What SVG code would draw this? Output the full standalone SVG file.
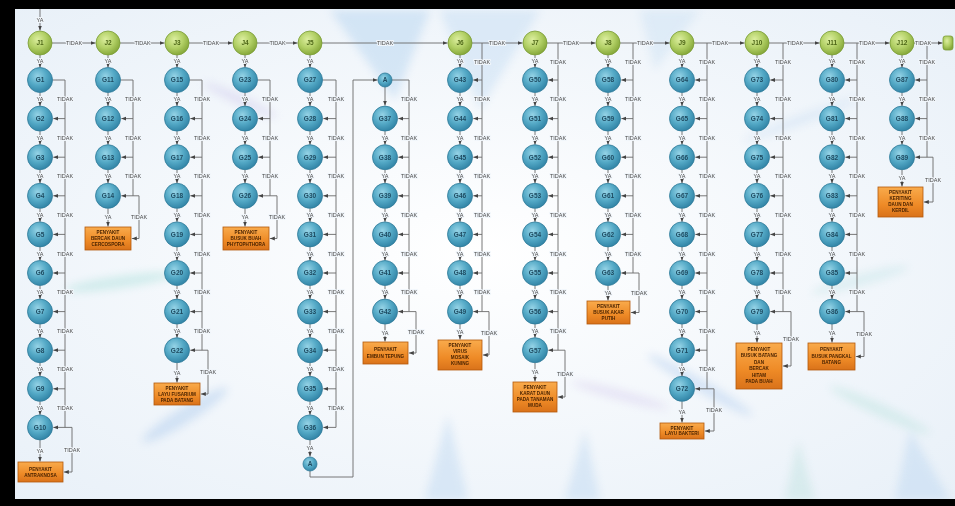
<svg xmlns="http://www.w3.org/2000/svg" width="955" height="506" viewBox="0 0 955 506">
<defs>
<radialGradient id="bgg" cx="50%" cy="50%" r="70%"><stop offset="0" stop-color="#ffffff"/><stop offset="1" stop-color="#e8f0f8"/></radialGradient>
<radialGradient id="bgr" cx="40%" cy="35%" r="65%"><stop offset="0" stop-color="#95d3e6"/><stop offset="0.55" stop-color="#54a9c6"/><stop offset="1" stop-color="#3386a8"/></radialGradient>
<radialGradient id="ggr" cx="40%" cy="35%" r="65%"><stop offset="0" stop-color="#dcee9f"/><stop offset="0.55" stop-color="#b2d066"/><stop offset="1" stop-color="#87a93b"/></radialGradient>
<linearGradient id="ogr" x1="0" y1="0" x2="0" y2="1"><stop offset="0" stop-color="#f9ab4c"/><stop offset="0.6" stop-color="#ee8a26"/><stop offset="1" stop-color="#d9721a"/></linearGradient>
<filter id="blur" x="-50%" y="-50%" width="200%" height="200%"><feGaussianBlur stdDeviation="4"/></filter>
<marker id="ah" viewBox="0 0 10 10" refX="10" refY="5" markerWidth="5" markerHeight="5" markerUnits="userSpaceOnUse" orient="auto"><path d="M0,1 L10,5 L0,9 z" fill="#444"/></marker>
<style>
.c line,.c path{stroke:#6a6a6a;stroke-width:.9;fill:none}
.a line,.a path{marker-end:url(#ah)}
.l{font-family:"Liberation Sans",Arial,sans-serif;font-size:5.5px;fill:#4a4a4a;text-anchor:middle;stroke:#f1f6fb;stroke-width:2.2px;paint-order:stroke;stroke-linejoin:round}
.b{fill:url(#bgr);stroke:#2f7a98;stroke-width:.8}
.g{fill:url(#ggr);stroke:#7a9c35;stroke-width:.8}
.o{fill:url(#ogr);stroke:#b3590b;stroke-width:.8}
.nt{font-family:"Liberation Sans",Arial,sans-serif;font-size:6.5px;font-weight:bold;fill:#1d4a60;text-anchor:middle}
.gt{font-family:"Liberation Sans",Arial,sans-serif;font-size:6.5px;font-weight:bold;fill:#4d6617;text-anchor:middle}
.bt{font-family:"Liberation Sans",Arial,sans-serif;font-size:4.6px;font-weight:bold;fill:#4a2300;text-anchor:middle}
</style>
</defs>
<rect x="0" y="0" width="955" height="506" fill="url(#bgg)"/>
<g id="background-streaks" filter="url(#blur)" opacity="0.4">
<polygon points="330,10 430,10 395,100" fill="#a9cdee"/>
<polygon points="440,10 540,10 480,110" fill="#bcd8f2"/>
<polygon points="640,10 700,10 655,70" fill="#c6def3"/>
<ellipse cx="120" cy="282" rx="55" ry="6" transform="rotate(-8 120 282)" fill="#9fdcd6"/>
<ellipse cx="185" cy="415" rx="50" ry="8" transform="rotate(-32 185 415)" fill="#a5c6ec"/>
<ellipse cx="240" cy="100" rx="40" ry="5" transform="rotate(25 240 100)" fill="#c9c2ea"/>
<polygon points="425,500 448,415 468,500" fill="#b5d3f0"/>
<polygon points="565,500 585,430 600,500" fill="#b5d3f0"/>
<polygon points="785,500 798,440 815,500" fill="#b9e0dc"/>
<polygon points="895,500 910,430 950,500" fill="#b5d3f0"/>
<ellipse cx="700" cy="385" rx="60" ry="6" transform="rotate(30 700 385)" fill="#a9c8ee"/>
<ellipse cx="880" cy="410" rx="55" ry="6" transform="rotate(25 880 410)" fill="#b5e1dc"/>
<ellipse cx="860" cy="280" rx="50" ry="6" transform="rotate(-15 860 280)" fill="#bfe3e6"/>
<ellipse cx="800" cy="120" rx="60" ry="5" transform="rotate(-20 800 120)" fill="#c6dcf2"/>
<ellipse cx="620" cy="395" rx="50" ry="5" transform="rotate(15 620 395)" fill="#d2c8ec"/>
</g>
<g id="frame" fill="#000">
<rect x="0" y="0" width="955" height="9"/>
<rect x="0" y="0" width="15" height="506"/>
<rect x="0" y="499" width="955" height="7"/>
</g>
<g id="connectors" class="c">
<g class="a">
<line x1="40" y1="9" x2="40" y2="30.5"/>
<line x1="52" y1="43" x2="95.5" y2="43"/>
<line x1="120" y1="43" x2="164.5" y2="43"/>
<line x1="189" y1="43" x2="232.5" y2="43"/>
<line x1="257" y1="43" x2="297.5" y2="43"/>
<line x1="322" y1="43" x2="447.5" y2="43"/>
<line x1="472" y1="43" x2="522.5" y2="43"/>
<line x1="547" y1="43" x2="595.5" y2="43"/>
<line x1="620" y1="43" x2="669.5" y2="43"/>
<line x1="694" y1="43" x2="744.5" y2="43"/>
<line x1="769" y1="43" x2="819.5" y2="43"/>
<line x1="844" y1="43" x2="889.5" y2="43"/>
<line x1="914" y1="43" x2="942.5" y2="43"/>
<line x1="40" y1="55" x2="40" y2="67.5"/><line x1="40" y1="92.5" x2="40" y2="106.1"/><line x1="40" y1="131.1" x2="40" y2="144.7"/><line x1="40" y1="169.7" x2="40" y2="183.3"/><line x1="40" y1="208.3" x2="40" y2="221.9"/><line x1="40" y1="246.9" x2="40" y2="260.5"/><line x1="40" y1="285.5" x2="40" y2="299.1"/><line x1="40" y1="324.1" x2="40" y2="337.7"/><line x1="40" y1="362.7" x2="40" y2="376.3"/><line x1="40" y1="401.3" x2="40" y2="414.9"/><line x1="40" y1="439.9" x2="40" y2="461.5"/>
<line x1="65" y1="118.6" x2="53.3" y2="118.6"/><line x1="65" y1="157.2" x2="53.3" y2="157.2"/><line x1="65" y1="195.8" x2="53.3" y2="195.8"/><line x1="65" y1="234.4" x2="53.3" y2="234.4"/><line x1="65" y1="273" x2="53.3" y2="273"/><line x1="65" y1="311.6" x2="53.3" y2="311.6"/><line x1="65" y1="350.2" x2="53.3" y2="350.2"/><line x1="65" y1="388.8" x2="53.3" y2="388.8"/><line x1="65" y1="427.4" x2="53.3" y2="427.4"/>
<path d="M65,427.4 H72 V472 H63.8"/>
<line x1="108" y1="55" x2="108" y2="67.5"/><line x1="108" y1="92.5" x2="108" y2="106.1"/><line x1="108" y1="131.1" x2="108" y2="144.7"/><line x1="108" y1="169.7" x2="108" y2="183.3"/><line x1="108" y1="208.3" x2="108" y2="226.5"/>
<line x1="133" y1="118.6" x2="121.3" y2="118.6"/><line x1="133" y1="157.2" x2="121.3" y2="157.2"/><line x1="133" y1="195.8" x2="121.3" y2="195.8"/>
<path d="M133,195.8 H139 V238.5 H131.8"/>
<line x1="177" y1="55" x2="177" y2="67.5"/><line x1="177" y1="92.5" x2="177" y2="106.1"/><line x1="177" y1="131.1" x2="177" y2="144.7"/><line x1="177" y1="169.7" x2="177" y2="183.3"/><line x1="177" y1="208.3" x2="177" y2="221.9"/><line x1="177" y1="246.9" x2="177" y2="260.5"/><line x1="177" y1="285.5" x2="177" y2="299.1"/><line x1="177" y1="324.1" x2="177" y2="337.7"/><line x1="177" y1="362.7" x2="177" y2="382.5"/>
<line x1="202" y1="118.6" x2="190.3" y2="118.6"/><line x1="202" y1="157.2" x2="190.3" y2="157.2"/><line x1="202" y1="195.8" x2="190.3" y2="195.8"/><line x1="202" y1="234.4" x2="190.3" y2="234.4"/><line x1="202" y1="273" x2="190.3" y2="273"/><line x1="202" y1="311.6" x2="190.3" y2="311.6"/><line x1="202" y1="350.2" x2="190.3" y2="350.2"/>
<path d="M202,350.2 H208 V394 H200.8"/>
<line x1="245" y1="55" x2="245" y2="67.5"/><line x1="245" y1="92.5" x2="245" y2="106.1"/><line x1="245" y1="131.1" x2="245" y2="144.7"/><line x1="245" y1="169.7" x2="245" y2="183.3"/><line x1="245" y1="208.3" x2="245" y2="226.5"/>
<line x1="270" y1="118.6" x2="258.3" y2="118.6"/><line x1="270" y1="157.2" x2="258.3" y2="157.2"/><line x1="270" y1="195.8" x2="258.3" y2="195.8"/>
<path d="M270,195.8 H277 V238.5 H269.8"/>
<line x1="310" y1="55" x2="310" y2="67.5"/><line x1="310" y1="92.5" x2="310" y2="106.1"/><line x1="310" y1="131.1" x2="310" y2="144.7"/><line x1="310" y1="169.7" x2="310" y2="183.3"/><line x1="310" y1="208.3" x2="310" y2="221.9"/><line x1="310" y1="246.9" x2="310" y2="260.5"/><line x1="310" y1="285.5" x2="310" y2="299.1"/><line x1="310" y1="324.1" x2="310" y2="337.7"/><line x1="310" y1="362.7" x2="310" y2="376.3"/><line x1="310" y1="401.3" x2="310" y2="414.9"/><line x1="310" y1="439.9" x2="310" y2="456.5"/>
<line x1="336" y1="118.6" x2="323.3" y2="118.6"/><line x1="336" y1="157.2" x2="323.3" y2="157.2"/><line x1="336" y1="195.8" x2="323.3" y2="195.8"/><line x1="336" y1="234.4" x2="323.3" y2="234.4"/><line x1="336" y1="273" x2="323.3" y2="273"/><line x1="336" y1="311.6" x2="323.3" y2="311.6"/><line x1="336" y1="350.2" x2="323.3" y2="350.2"/><line x1="336" y1="388.8" x2="323.3" y2="388.8"/><line x1="336" y1="427.4" x2="323.3" y2="427.4"/>
<path d="M310,471 V477 H353 V80 H377.5"/>
<line x1="385" y1="87" x2="385" y2="105.6"/><line x1="385" y1="131.1" x2="385" y2="144.7"/><line x1="385" y1="169.7" x2="385" y2="183.3"/><line x1="385" y1="208.3" x2="385" y2="221.9"/><line x1="385" y1="246.9" x2="385" y2="260.5"/><line x1="385" y1="285.5" x2="385" y2="299.1"/><line x1="385" y1="324.1" x2="385" y2="341.5"/>
<line x1="409" y1="118.6" x2="398.3" y2="118.6"/><line x1="409" y1="157.2" x2="398.3" y2="157.2"/><line x1="409" y1="195.8" x2="398.3" y2="195.8"/><line x1="409" y1="234.4" x2="398.3" y2="234.4"/><line x1="409" y1="273" x2="398.3" y2="273"/><line x1="409" y1="311.6" x2="398.3" y2="311.6"/>
<path d="M409,311.6 H416 V353 H408.8"/>
<line x1="460" y1="55" x2="460" y2="67.5"/><line x1="460" y1="92.5" x2="460" y2="106.1"/><line x1="460" y1="131.1" x2="460" y2="144.7"/><line x1="460" y1="169.7" x2="460" y2="183.3"/><line x1="460" y1="208.3" x2="460" y2="221.9"/><line x1="460" y1="246.9" x2="460" y2="260.5"/><line x1="460" y1="285.5" x2="460" y2="299.1"/><line x1="460" y1="324.1" x2="460" y2="339.5"/>
<line x1="482" y1="80" x2="473.3" y2="80"/><line x1="482" y1="118.6" x2="473.3" y2="118.6"/><line x1="482" y1="157.2" x2="473.3" y2="157.2"/><line x1="482" y1="195.8" x2="473.3" y2="195.8"/><line x1="482" y1="234.4" x2="473.3" y2="234.4"/><line x1="482" y1="273" x2="473.3" y2="273"/><line x1="482" y1="311.6" x2="473.3" y2="311.6"/>
<path d="M482,311.6 H489 V355 H482.8"/>
<line x1="535" y1="55" x2="535" y2="67.5"/><line x1="535" y1="92.5" x2="535" y2="106.1"/><line x1="535" y1="131.1" x2="535" y2="144.7"/><line x1="535" y1="169.7" x2="535" y2="183.3"/><line x1="535" y1="208.3" x2="535" y2="221.9"/><line x1="535" y1="246.9" x2="535" y2="260.5"/><line x1="535" y1="285.5" x2="535" y2="299.1"/><line x1="535" y1="324.1" x2="535" y2="337.7"/><line x1="535" y1="362.7" x2="535" y2="381.5"/>
<line x1="558" y1="80" x2="548.3" y2="80"/><line x1="558" y1="118.6" x2="548.3" y2="118.6"/><line x1="558" y1="157.2" x2="548.3" y2="157.2"/><line x1="558" y1="195.8" x2="548.3" y2="195.8"/><line x1="558" y1="234.4" x2="548.3" y2="234.4"/><line x1="558" y1="273" x2="548.3" y2="273"/><line x1="558" y1="311.6" x2="548.3" y2="311.6"/><line x1="558" y1="350.2" x2="548.3" y2="350.2"/>
<path d="M558,350.2 H565 V397 H557.8"/>
<line x1="608" y1="55" x2="608" y2="67.5"/><line x1="608" y1="92.5" x2="608" y2="106.1"/><line x1="608" y1="131.1" x2="608" y2="144.7"/><line x1="608" y1="169.7" x2="608" y2="183.3"/><line x1="608" y1="208.3" x2="608" y2="221.9"/><line x1="608" y1="246.9" x2="608" y2="260.5"/><line x1="608" y1="285.5" x2="608" y2="300.5"/>
<line x1="633" y1="80" x2="621.3" y2="80"/><line x1="633" y1="118.6" x2="621.3" y2="118.6"/><line x1="633" y1="157.2" x2="621.3" y2="157.2"/><line x1="633" y1="195.8" x2="621.3" y2="195.8"/><line x1="633" y1="234.4" x2="621.3" y2="234.4"/><line x1="633" y1="273" x2="621.3" y2="273"/>
<path d="M633,273 H639 V312.5 H630.8"/>
<line x1="682" y1="55" x2="682" y2="67.5"/><line x1="682" y1="92.5" x2="682" y2="106.1"/><line x1="682" y1="131.1" x2="682" y2="144.7"/><line x1="682" y1="169.7" x2="682" y2="183.3"/><line x1="682" y1="208.3" x2="682" y2="221.9"/><line x1="682" y1="246.9" x2="682" y2="260.5"/><line x1="682" y1="285.5" x2="682" y2="299.1"/><line x1="682" y1="324.1" x2="682" y2="337.7"/><line x1="682" y1="362.7" x2="682" y2="376.3"/><line x1="682" y1="401.3" x2="682" y2="422.5"/>
<line x1="707" y1="80" x2="695.3" y2="80"/><line x1="707" y1="118.6" x2="695.3" y2="118.6"/><line x1="707" y1="157.2" x2="695.3" y2="157.2"/><line x1="707" y1="195.8" x2="695.3" y2="195.8"/><line x1="707" y1="234.4" x2="695.3" y2="234.4"/><line x1="707" y1="273" x2="695.3" y2="273"/><line x1="707" y1="311.6" x2="695.3" y2="311.6"/><line x1="707" y1="350.2" x2="695.3" y2="350.2"/><line x1="707" y1="388.8" x2="695.3" y2="388.8"/>
<path d="M707,388.8 H714 V431 H704.8"/>
<line x1="757" y1="55" x2="757" y2="67.5"/><line x1="757" y1="92.5" x2="757" y2="106.1"/><line x1="757" y1="131.1" x2="757" y2="144.7"/><line x1="757" y1="169.7" x2="757" y2="183.3"/><line x1="757" y1="208.3" x2="757" y2="221.9"/><line x1="757" y1="246.9" x2="757" y2="260.5"/><line x1="757" y1="285.5" x2="757" y2="299.1"/><line x1="757" y1="324.1" x2="757" y2="342.5"/>
<line x1="783" y1="80" x2="770.3" y2="80"/><line x1="783" y1="118.6" x2="770.3" y2="118.6"/><line x1="783" y1="157.2" x2="770.3" y2="157.2"/><line x1="783" y1="195.8" x2="770.3" y2="195.8"/><line x1="783" y1="234.4" x2="770.3" y2="234.4"/><line x1="783" y1="273" x2="770.3" y2="273"/><line x1="783" y1="311.6" x2="770.3" y2="311.6"/>
<path d="M783,311.6 H791 V366 H782.8"/>
<line x1="832" y1="55" x2="832" y2="67.5"/><line x1="832" y1="92.5" x2="832" y2="106.1"/><line x1="832" y1="131.1" x2="832" y2="144.7"/><line x1="832" y1="169.7" x2="832" y2="183.3"/><line x1="832" y1="208.3" x2="832" y2="221.9"/><line x1="832" y1="246.9" x2="832" y2="260.5"/><line x1="832" y1="285.5" x2="832" y2="299.1"/><line x1="832" y1="324.1" x2="832" y2="342.5"/>
<line x1="857" y1="80" x2="845.3" y2="80"/><line x1="857" y1="118.6" x2="845.3" y2="118.6"/><line x1="857" y1="157.2" x2="845.3" y2="157.2"/><line x1="857" y1="195.8" x2="845.3" y2="195.8"/><line x1="857" y1="234.4" x2="845.3" y2="234.4"/><line x1="857" y1="273" x2="845.3" y2="273"/><line x1="857" y1="311.6" x2="845.3" y2="311.6"/>
<path d="M857,311.6 H864 V356.5 H855.8"/>
<line x1="902" y1="55" x2="902" y2="67.5"/><line x1="902" y1="92.5" x2="902" y2="106.1"/><line x1="902" y1="131.1" x2="902" y2="144.7"/><line x1="902" y1="169.7" x2="902" y2="186.5"/>
<line x1="927" y1="80" x2="915.3" y2="80"/><line x1="927" y1="118.6" x2="915.3" y2="118.6"/><line x1="927" y1="157.2" x2="915.3" y2="157.2"/>
<path d="M927,157.2 H933 V202 H923.8"/>
</g>
<g>
<path d="M52.5,80 H65 V427.4"/>
<path d="M120.5,80 H133 V195.8"/>
<path d="M189.5,80 H202 V350.2"/>
<path d="M257.5,80 H270 V195.8"/>
<path d="M322.5,80 H336 V427.4"/>
<path d="M392,80 H409 V311.6"/>
<path d="M482,43 V311.6"/>
<path d="M558,43 V350.2"/>
<path d="M633,43 V273"/>
<path d="M707,43 V388.8"/>
<path d="M783,43 V311.6"/>
<path d="M857,43 V311.6"/>
<path d="M927,43 V157.2"/>
</g>
<g id="edge-labels">
<text class="l" x="40" y="22">YA</text>
<text class="l" x="74" y="44.9">TIDAK</text><text class="l" x="142.5" y="44.9">TIDAK</text><text class="l" x="211" y="44.9">TIDAK</text><text class="l" x="277.5" y="44.9">TIDAK</text><text class="l" x="385" y="44.9">TIDAK</text><text class="l" x="497" y="44.9">TIDAK</text><text class="l" x="571" y="44.9">TIDAK</text><text class="l" x="645" y="44.9">TIDAK</text><text class="l" x="720" y="44.9">TIDAK</text><text class="l" x="795" y="44.9">TIDAK</text><text class="l" x="867" y="44.9">TIDAK</text><text class="l" x="923" y="44.9">TIDAK</text>
<text class="l" x="40" y="63.4">YA</text><text class="l" x="40" y="101.2">YA</text><text class="l" x="40" y="139.8">YA</text><text class="l" x="40" y="178.4">YA</text><text class="l" x="40" y="217">YA</text><text class="l" x="40" y="255.6">YA</text><text class="l" x="40" y="294.2">YA</text><text class="l" x="40" y="332.8">YA</text><text class="l" x="40" y="371.4">YA</text><text class="l" x="40" y="410">YA</text><text class="l" x="40" y="452.6">YA</text>
<text class="l" x="65" y="101.2">TIDAK</text><text class="l" x="65" y="139.8">TIDAK</text><text class="l" x="65" y="178.4">TIDAK</text><text class="l" x="65" y="217">TIDAK</text><text class="l" x="65" y="255.6">TIDAK</text><text class="l" x="65" y="294.2">TIDAK</text><text class="l" x="65" y="332.8">TIDAK</text><text class="l" x="65" y="371.4">TIDAK</text><text class="l" x="65" y="410">TIDAK</text><text class="l" x="72" y="451.6">TIDAK</text>
<text class="l" x="108" y="63.4">YA</text><text class="l" x="108" y="101.2">YA</text><text class="l" x="108" y="139.8">YA</text><text class="l" x="108" y="178.4">YA</text><text class="l" x="108" y="219.3">YA</text>
<text class="l" x="133" y="101.2">TIDAK</text><text class="l" x="133" y="139.8">TIDAK</text><text class="l" x="133" y="178.4">TIDAK</text><text class="l" x="139" y="219.1">TIDAK</text>
<text class="l" x="177" y="63.4">YA</text><text class="l" x="177" y="101.2">YA</text><text class="l" x="177" y="139.8">YA</text><text class="l" x="177" y="178.4">YA</text><text class="l" x="177" y="217">YA</text><text class="l" x="177" y="255.6">YA</text><text class="l" x="177" y="294.2">YA</text><text class="l" x="177" y="332.8">YA</text><text class="l" x="177" y="374.5">YA</text>
<text class="l" x="202" y="101.2">TIDAK</text><text class="l" x="202" y="139.8">TIDAK</text><text class="l" x="202" y="178.4">TIDAK</text><text class="l" x="202" y="217">TIDAK</text><text class="l" x="202" y="255.6">TIDAK</text><text class="l" x="202" y="294.2">TIDAK</text><text class="l" x="202" y="332.8">TIDAK</text><text class="l" x="208" y="374">TIDAK</text>
<text class="l" x="245" y="63.4">YA</text><text class="l" x="245" y="101.2">YA</text><text class="l" x="245" y="139.8">YA</text><text class="l" x="245" y="178.4">YA</text><text class="l" x="245" y="219.3">YA</text>
<text class="l" x="270" y="101.2">TIDAK</text><text class="l" x="270" y="139.8">TIDAK</text><text class="l" x="270" y="178.4">TIDAK</text><text class="l" x="277" y="219.1">TIDAK</text>
<text class="l" x="310" y="63.4">YA</text><text class="l" x="310" y="101.2">YA</text><text class="l" x="310" y="139.8">YA</text><text class="l" x="310" y="178.4">YA</text><text class="l" x="310" y="217">YA</text><text class="l" x="310" y="255.6">YA</text><text class="l" x="310" y="294.2">YA</text><text class="l" x="310" y="332.8">YA</text><text class="l" x="310" y="371.4">YA</text><text class="l" x="310" y="410">YA</text><text class="l" x="310" y="450.1">YA</text>
<text class="l" x="336" y="101.2">TIDAK</text><text class="l" x="336" y="139.8">TIDAK</text><text class="l" x="336" y="178.4">TIDAK</text><text class="l" x="336" y="217">TIDAK</text><text class="l" x="336" y="255.6">TIDAK</text><text class="l" x="336" y="294.2">TIDAK</text><text class="l" x="336" y="332.8">TIDAK</text><text class="l" x="336" y="371.4">TIDAK</text><text class="l" x="336" y="410">TIDAK</text>
<text class="l" x="385" y="139.8">YA</text><text class="l" x="385" y="178.4">YA</text><text class="l" x="385" y="217">YA</text><text class="l" x="385" y="255.6">YA</text><text class="l" x="385" y="294.2">YA</text><text class="l" x="385" y="334.7">YA</text>
<text class="l" x="409" y="101.2">TIDAK</text><text class="l" x="409" y="139.8">TIDAK</text><text class="l" x="409" y="178.4">TIDAK</text><text class="l" x="409" y="217">TIDAK</text><text class="l" x="409" y="255.6">TIDAK</text><text class="l" x="409" y="294.2">TIDAK</text><text class="l" x="416" y="334">TIDAK</text>
<text class="l" x="460" y="63.4">YA</text><text class="l" x="460" y="101.2">YA</text><text class="l" x="460" y="139.8">YA</text><text class="l" x="460" y="178.4">YA</text><text class="l" x="460" y="217">YA</text><text class="l" x="460" y="255.6">YA</text><text class="l" x="460" y="294.2">YA</text><text class="l" x="460" y="333.7">YA</text>
<text class="l" x="482" y="63.9">TIDAK</text><text class="l" x="482" y="101.2">TIDAK</text><text class="l" x="482" y="139.8">TIDAK</text><text class="l" x="482" y="178.4">TIDAK</text><text class="l" x="482" y="217">TIDAK</text><text class="l" x="482" y="255.6">TIDAK</text><text class="l" x="482" y="294.2">TIDAK</text><text class="l" x="489" y="335">TIDAK</text>
<text class="l" x="535" y="63.4">YA</text><text class="l" x="535" y="101.2">YA</text><text class="l" x="535" y="139.8">YA</text><text class="l" x="535" y="178.4">YA</text><text class="l" x="535" y="217">YA</text><text class="l" x="535" y="255.6">YA</text><text class="l" x="535" y="294.2">YA</text><text class="l" x="535" y="332.8">YA</text><text class="l" x="535" y="374">YA</text>
<text class="l" x="558" y="63.9">TIDAK</text><text class="l" x="558" y="101.2">TIDAK</text><text class="l" x="558" y="139.8">TIDAK</text><text class="l" x="558" y="178.4">TIDAK</text><text class="l" x="558" y="217">TIDAK</text><text class="l" x="558" y="255.6">TIDAK</text><text class="l" x="558" y="294.2">TIDAK</text><text class="l" x="558" y="332.8">TIDAK</text><text class="l" x="565" y="375.5">TIDAK</text>
<text class="l" x="608" y="63.4">YA</text><text class="l" x="608" y="101.2">YA</text><text class="l" x="608" y="139.8">YA</text><text class="l" x="608" y="178.4">YA</text><text class="l" x="608" y="217">YA</text><text class="l" x="608" y="255.6">YA</text><text class="l" x="608" y="294.9">YA</text>
<text class="l" x="633" y="63.9">TIDAK</text><text class="l" x="633" y="101.2">TIDAK</text><text class="l" x="633" y="139.8">TIDAK</text><text class="l" x="633" y="178.4">TIDAK</text><text class="l" x="633" y="217">TIDAK</text><text class="l" x="633" y="255.6">TIDAK</text><text class="l" x="639" y="294.6">TIDAK</text>
<text class="l" x="682" y="63.4">YA</text><text class="l" x="682" y="101.2">YA</text><text class="l" x="682" y="139.8">YA</text><text class="l" x="682" y="178.4">YA</text><text class="l" x="682" y="217">YA</text><text class="l" x="682" y="255.6">YA</text><text class="l" x="682" y="294.2">YA</text><text class="l" x="682" y="332.8">YA</text><text class="l" x="682" y="371.4">YA</text><text class="l" x="682" y="413.8">YA</text>
<text class="l" x="707" y="63.9">TIDAK</text><text class="l" x="707" y="101.2">TIDAK</text><text class="l" x="707" y="139.8">TIDAK</text><text class="l" x="707" y="178.4">TIDAK</text><text class="l" x="707" y="217">TIDAK</text><text class="l" x="707" y="255.6">TIDAK</text><text class="l" x="707" y="294.2">TIDAK</text><text class="l" x="707" y="332.8">TIDAK</text><text class="l" x="707" y="371.4">TIDAK</text><text class="l" x="714" y="411.9">TIDAK</text>
<text class="l" x="757" y="63.4">YA</text><text class="l" x="757" y="101.2">YA</text><text class="l" x="757" y="139.8">YA</text><text class="l" x="757" y="178.4">YA</text><text class="l" x="757" y="217">YA</text><text class="l" x="757" y="255.6">YA</text><text class="l" x="757" y="294.2">YA</text><text class="l" x="757" y="335.2">YA</text>
<text class="l" x="783" y="63.9">TIDAK</text><text class="l" x="783" y="101.2">TIDAK</text><text class="l" x="783" y="139.8">TIDAK</text><text class="l" x="783" y="178.4">TIDAK</text><text class="l" x="783" y="217">TIDAK</text><text class="l" x="783" y="255.6">TIDAK</text><text class="l" x="783" y="294.2">TIDAK</text><text class="l" x="791" y="340.7">TIDAK</text>
<text class="l" x="832" y="63.4">YA</text><text class="l" x="832" y="101.2">YA</text><text class="l" x="832" y="139.8">YA</text><text class="l" x="832" y="178.4">YA</text><text class="l" x="832" y="217">YA</text><text class="l" x="832" y="255.6">YA</text><text class="l" x="832" y="294.2">YA</text><text class="l" x="832" y="335.2">YA</text>
<text class="l" x="857" y="63.9">TIDAK</text><text class="l" x="857" y="101.2">TIDAK</text><text class="l" x="857" y="139.8">TIDAK</text><text class="l" x="857" y="178.4">TIDAK</text><text class="l" x="857" y="217">TIDAK</text><text class="l" x="857" y="255.6">TIDAK</text><text class="l" x="857" y="294.2">TIDAK</text><text class="l" x="864" y="335.9">TIDAK</text>
<text class="l" x="902" y="63.4">YA</text><text class="l" x="902" y="101.2">YA</text><text class="l" x="902" y="139.8">YA</text><text class="l" x="902" y="180">YA</text>
<text class="l" x="927" y="63.9">TIDAK</text><text class="l" x="927" y="101.2">TIDAK</text><text class="l" x="927" y="139.8">TIDAK</text><text class="l" x="933" y="181.5">TIDAK</text>
</g>
</g>
<g id="nodes">
<g id="J1"><circle class="g" cx="40" cy="43" r="12"/><text class="gt" x="40" y="45.3">J1</text></g>
<g id="J2"><circle class="g" cx="108" cy="43" r="12"/><text class="gt" x="108" y="45.3">J2</text></g>
<g id="J3"><circle class="g" cx="177" cy="43" r="12"/><text class="gt" x="177" y="45.3">J3</text></g>
<g id="J4"><circle class="g" cx="245" cy="43" r="12"/><text class="gt" x="245" y="45.3">J4</text></g>
<g id="J5"><circle class="g" cx="310" cy="43" r="12"/><text class="gt" x="310" y="45.3">J5</text></g>
<g id="J6"><circle class="g" cx="460" cy="43" r="12"/><text class="gt" x="460" y="45.3">J6</text></g>
<g id="J7"><circle class="g" cx="535" cy="43" r="12"/><text class="gt" x="535" y="45.3">J7</text></g>
<g id="J8"><circle class="g" cx="608" cy="43" r="12"/><text class="gt" x="608" y="45.3">J8</text></g>
<g id="J9"><circle class="g" cx="682" cy="43" r="12"/><text class="gt" x="682" y="45.3">J9</text></g>
<g id="J10"><circle class="g" cx="757" cy="43" r="12"/><text class="gt" x="757" y="45.3">J10</text></g>
<g id="J11"><circle class="g" cx="832" cy="43" r="12"/><text class="gt" x="832" y="45.3">J11</text></g>
<g id="J12"><circle class="g" cx="902" cy="43" r="12"/><text class="gt" x="902" y="45.3">J12</text></g>
<g id="END"><rect x="943" y="36" width="10" height="14" rx="2.5" class="g"/></g>
<g id="G1"><circle class="b" cx="40" cy="80" r="12.5"/><text class="nt" x="40" y="82.3">G1</text></g>
<g id="G2"><circle class="b" cx="40" cy="118.6" r="12.5"/><text class="nt" x="40" y="120.9">G2</text></g>
<g id="G3"><circle class="b" cx="40" cy="157.2" r="12.5"/><text class="nt" x="40" y="159.5">G3</text></g>
<g id="G4"><circle class="b" cx="40" cy="195.8" r="12.5"/><text class="nt" x="40" y="198.1">G4</text></g>
<g id="G5"><circle class="b" cx="40" cy="234.4" r="12.5"/><text class="nt" x="40" y="236.7">G5</text></g>
<g id="G6"><circle class="b" cx="40" cy="273" r="12.5"/><text class="nt" x="40" y="275.3">G6</text></g>
<g id="G7"><circle class="b" cx="40" cy="311.6" r="12.5"/><text class="nt" x="40" y="313.9">G7</text></g>
<g id="G8"><circle class="b" cx="40" cy="350.2" r="12.5"/><text class="nt" x="40" y="352.5">G8</text></g>
<g id="G9"><circle class="b" cx="40" cy="388.8" r="12.5"/><text class="nt" x="40" y="391.1">G9</text></g>
<g id="G10"><circle class="b" cx="40" cy="427.4" r="12.5"/><text class="nt" x="40" y="429.7">G10</text></g>
<g id="P1"><rect class="o" x="18" y="462" width="45" height="20"/><text class="bt" x="40.5" y="470.5">PENYAKIT</text><text class="bt" x="40.5" y="477">ANTRAKNOSA</text></g>
<g id="G11"><circle class="b" cx="108" cy="80" r="12.5"/><text class="nt" x="108" y="82.3">G11</text></g>
<g id="G12"><circle class="b" cx="108" cy="118.6" r="12.5"/><text class="nt" x="108" y="120.9">G12</text></g>
<g id="G13"><circle class="b" cx="108" cy="157.2" r="12.5"/><text class="nt" x="108" y="159.5">G13</text></g>
<g id="G14"><circle class="b" cx="108" cy="195.8" r="12.5"/><text class="nt" x="108" y="198.1">G14</text></g>
<g id="P2"><rect class="o" x="85" y="227" width="46" height="23"/><text class="bt" x="108" y="234">PENYAKIT</text><text class="bt" x="108" y="240">BERCAK DAUN</text><text class="bt" x="108" y="246">CERCOSPORA</text></g>
<g id="G15"><circle class="b" cx="177" cy="80" r="12.5"/><text class="nt" x="177" y="82.3">G15</text></g>
<g id="G16"><circle class="b" cx="177" cy="118.6" r="12.5"/><text class="nt" x="177" y="120.9">G16</text></g>
<g id="G17"><circle class="b" cx="177" cy="157.2" r="12.5"/><text class="nt" x="177" y="159.5">G17</text></g>
<g id="G18"><circle class="b" cx="177" cy="195.8" r="12.5"/><text class="nt" x="177" y="198.1">G18</text></g>
<g id="G19"><circle class="b" cx="177" cy="234.4" r="12.5"/><text class="nt" x="177" y="236.7">G19</text></g>
<g id="G20"><circle class="b" cx="177" cy="273" r="12.5"/><text class="nt" x="177" y="275.3">G20</text></g>
<g id="G21"><circle class="b" cx="177" cy="311.6" r="12.5"/><text class="nt" x="177" y="313.9">G21</text></g>
<g id="G22"><circle class="b" cx="177" cy="350.2" r="12.5"/><text class="nt" x="177" y="352.5">G22</text></g>
<g id="P3"><rect class="o" x="154" y="383" width="46" height="22"/><text class="bt" x="177" y="389.5">PENYAKIT</text><text class="bt" x="177" y="395.5">LAYU FUSARIUM</text><text class="bt" x="177" y="401.5">PADA BATANG</text></g>
<g id="G23"><circle class="b" cx="245" cy="80" r="12.5"/><text class="nt" x="245" y="82.3">G23</text></g>
<g id="G24"><circle class="b" cx="245" cy="118.6" r="12.5"/><text class="nt" x="245" y="120.9">G24</text></g>
<g id="G25"><circle class="b" cx="245" cy="157.2" r="12.5"/><text class="nt" x="245" y="159.5">G25</text></g>
<g id="G26"><circle class="b" cx="245" cy="195.8" r="12.5"/><text class="nt" x="245" y="198.1">G26</text></g>
<g id="P4"><rect class="o" x="223" y="227" width="46" height="23"/><text class="bt" x="246" y="234">PENYAKIT</text><text class="bt" x="246" y="240">BUSUK BUAH</text><text class="bt" x="246" y="246">PHYTOPHTHORA</text></g>
<g id="G27"><circle class="b" cx="310" cy="80" r="12.5"/><text class="nt" x="310" y="82.3">G27</text></g>
<g id="G28"><circle class="b" cx="310" cy="118.6" r="12.5"/><text class="nt" x="310" y="120.9">G28</text></g>
<g id="G29"><circle class="b" cx="310" cy="157.2" r="12.5"/><text class="nt" x="310" y="159.5">G29</text></g>
<g id="G30"><circle class="b" cx="310" cy="195.8" r="12.5"/><text class="nt" x="310" y="198.1">G30</text></g>
<g id="G31"><circle class="b" cx="310" cy="234.4" r="12.5"/><text class="nt" x="310" y="236.7">G31</text></g>
<g id="G32"><circle class="b" cx="310" cy="273" r="12.5"/><text class="nt" x="310" y="275.3">G32</text></g>
<g id="G33"><circle class="b" cx="310" cy="311.6" r="12.5"/><text class="nt" x="310" y="313.9">G33</text></g>
<g id="G34"><circle class="b" cx="310" cy="350.2" r="12.5"/><text class="nt" x="310" y="352.5">G34</text></g>
<g id="G35"><circle class="b" cx="310" cy="388.8" r="12.5"/><text class="nt" x="310" y="391.1">G35</text></g>
<g id="G36"><circle class="b" cx="310" cy="427.4" r="12.5"/><text class="nt" x="310" y="429.7">G36</text></g>
<g id="A-out"><circle class="b" cx="310" cy="464" r="7"/><text class="nt" x="310" y="466.3">A</text></g>
<g id="A-in"><circle class="b" cx="385" cy="80" r="7"/><text class="nt" x="385" y="82.3">A</text></g>
<g id="G37"><circle class="b" cx="385" cy="118.6" r="12.5"/><text class="nt" x="385" y="120.9">G37</text></g>
<g id="G38"><circle class="b" cx="385" cy="157.2" r="12.5"/><text class="nt" x="385" y="159.5">G38</text></g>
<g id="G39"><circle class="b" cx="385" cy="195.8" r="12.5"/><text class="nt" x="385" y="198.1">G39</text></g>
<g id="G40"><circle class="b" cx="385" cy="234.4" r="12.5"/><text class="nt" x="385" y="236.7">G40</text></g>
<g id="G41"><circle class="b" cx="385" cy="273" r="12.5"/><text class="nt" x="385" y="275.3">G41</text></g>
<g id="G42"><circle class="b" cx="385" cy="311.6" r="12.5"/><text class="nt" x="385" y="313.9">G42</text></g>
<g id="P5"><rect class="o" x="363" y="342" width="45" height="22"/><text class="bt" x="385.5" y="351">PENYAKIT</text><text class="bt" x="385.5" y="357.5">EMBUN TEPUNG</text></g>
<g id="G43"><circle class="b" cx="460" cy="80" r="12.5"/><text class="nt" x="460" y="82.3">G43</text></g>
<g id="G44"><circle class="b" cx="460" cy="118.6" r="12.5"/><text class="nt" x="460" y="120.9">G44</text></g>
<g id="G45"><circle class="b" cx="460" cy="157.2" r="12.5"/><text class="nt" x="460" y="159.5">G45</text></g>
<g id="G46"><circle class="b" cx="460" cy="195.8" r="12.5"/><text class="nt" x="460" y="198.1">G46</text></g>
<g id="G47"><circle class="b" cx="460" cy="234.4" r="12.5"/><text class="nt" x="460" y="236.7">G47</text></g>
<g id="G48"><circle class="b" cx="460" cy="273" r="12.5"/><text class="nt" x="460" y="275.3">G48</text></g>
<g id="G49"><circle class="b" cx="460" cy="311.6" r="12.5"/><text class="nt" x="460" y="313.9">G49</text></g>
<g id="P6"><rect class="o" x="438" y="340" width="44" height="30"/><text class="bt" x="460" y="346.5">PENYAKIT</text><text class="bt" x="460" y="352.5">VIRUS</text><text class="bt" x="460" y="358.5">MOSAIK</text><text class="bt" x="460" y="364.5">KUNING</text></g>
<g id="G50"><circle class="b" cx="535" cy="80" r="12.5"/><text class="nt" x="535" y="82.3">G50</text></g>
<g id="G51"><circle class="b" cx="535" cy="118.6" r="12.5"/><text class="nt" x="535" y="120.9">G51</text></g>
<g id="G52"><circle class="b" cx="535" cy="157.2" r="12.5"/><text class="nt" x="535" y="159.5">G52</text></g>
<g id="G53"><circle class="b" cx="535" cy="195.8" r="12.5"/><text class="nt" x="535" y="198.1">G53</text></g>
<g id="G54"><circle class="b" cx="535" cy="234.4" r="12.5"/><text class="nt" x="535" y="236.7">G54</text></g>
<g id="G55"><circle class="b" cx="535" cy="273" r="12.5"/><text class="nt" x="535" y="275.3">G55</text></g>
<g id="G56"><circle class="b" cx="535" cy="311.6" r="12.5"/><text class="nt" x="535" y="313.9">G56</text></g>
<g id="G57"><circle class="b" cx="535" cy="350.2" r="12.5"/><text class="nt" x="535" y="352.5">G57</text></g>
<g id="P7"><rect class="o" x="513" y="382" width="44" height="30"/><text class="bt" x="535" y="388.5">PENYAKIT</text><text class="bt" x="535" y="394.5">KARAT DAUN</text><text class="bt" x="535" y="400.5">PADA TANAMAN</text><text class="bt" x="535" y="406.5">MUDA</text></g>
<g id="G58"><circle class="b" cx="608" cy="80" r="12.5"/><text class="nt" x="608" y="82.3">G58</text></g>
<g id="G59"><circle class="b" cx="608" cy="118.6" r="12.5"/><text class="nt" x="608" y="120.9">G59</text></g>
<g id="G60"><circle class="b" cx="608" cy="157.2" r="12.5"/><text class="nt" x="608" y="159.5">G60</text></g>
<g id="G61"><circle class="b" cx="608" cy="195.8" r="12.5"/><text class="nt" x="608" y="198.1">G61</text></g>
<g id="G62"><circle class="b" cx="608" cy="234.4" r="12.5"/><text class="nt" x="608" y="236.7">G62</text></g>
<g id="G63"><circle class="b" cx="608" cy="273" r="12.5"/><text class="nt" x="608" y="275.3">G63</text></g>
<g id="P8"><rect class="o" x="587" y="301" width="43" height="23"/><text class="bt" x="608.5" y="308">PENYAKIT</text><text class="bt" x="608.5" y="314">BUSUK AKAR</text><text class="bt" x="608.5" y="320">PUTIH</text></g>
<g id="G64"><circle class="b" cx="682" cy="80" r="12.5"/><text class="nt" x="682" y="82.3">G64</text></g>
<g id="G65"><circle class="b" cx="682" cy="118.6" r="12.5"/><text class="nt" x="682" y="120.9">G65</text></g>
<g id="G66"><circle class="b" cx="682" cy="157.2" r="12.5"/><text class="nt" x="682" y="159.5">G66</text></g>
<g id="G67"><circle class="b" cx="682" cy="195.8" r="12.5"/><text class="nt" x="682" y="198.1">G67</text></g>
<g id="G68"><circle class="b" cx="682" cy="234.4" r="12.5"/><text class="nt" x="682" y="236.7">G68</text></g>
<g id="G69"><circle class="b" cx="682" cy="273" r="12.5"/><text class="nt" x="682" y="275.3">G69</text></g>
<g id="G70"><circle class="b" cx="682" cy="311.6" r="12.5"/><text class="nt" x="682" y="313.9">G70</text></g>
<g id="G71"><circle class="b" cx="682" cy="350.2" r="12.5"/><text class="nt" x="682" y="352.5">G71</text></g>
<g id="G72"><circle class="b" cx="682" cy="388.8" r="12.5"/><text class="nt" x="682" y="391.1">G72</text></g>
<g id="P9"><rect class="o" x="660" y="423" width="44" height="16"/><text class="bt" x="682" y="429.5">PENYAKIT</text><text class="bt" x="682" y="435">LAYU BAKTERI</text></g>
<g id="G73"><circle class="b" cx="757" cy="80" r="12.5"/><text class="nt" x="757" y="82.3">G73</text></g>
<g id="G74"><circle class="b" cx="757" cy="118.6" r="12.5"/><text class="nt" x="757" y="120.9">G74</text></g>
<g id="G75"><circle class="b" cx="757" cy="157.2" r="12.5"/><text class="nt" x="757" y="159.5">G75</text></g>
<g id="G76"><circle class="b" cx="757" cy="195.8" r="12.5"/><text class="nt" x="757" y="198.1">G76</text></g>
<g id="G77"><circle class="b" cx="757" cy="234.4" r="12.5"/><text class="nt" x="757" y="236.7">G77</text></g>
<g id="G78"><circle class="b" cx="757" cy="273" r="12.5"/><text class="nt" x="757" y="275.3">G78</text></g>
<g id="G79"><circle class="b" cx="757" cy="311.6" r="12.5"/><text class="nt" x="757" y="313.9">G79</text></g>
<g id="P10"><rect class="o" x="736" y="343" width="46" height="46"/><text class="bt" x="759" y="350.5">PENYAKIT</text><text class="bt" x="759" y="357">BUSUK BATANG</text><text class="bt" x="759" y="363.5">DAN</text><text class="bt" x="759" y="370">BERCAK</text><text class="bt" x="759" y="376.5">HITAM</text><text class="bt" x="759" y="383">PADA BUAH</text></g>
<g id="G80"><circle class="b" cx="832" cy="80" r="12.5"/><text class="nt" x="832" y="82.3">G80</text></g>
<g id="G81"><circle class="b" cx="832" cy="118.6" r="12.5"/><text class="nt" x="832" y="120.9">G81</text></g>
<g id="G82"><circle class="b" cx="832" cy="157.2" r="12.5"/><text class="nt" x="832" y="159.5">G82</text></g>
<g id="G83"><circle class="b" cx="832" cy="195.8" r="12.5"/><text class="nt" x="832" y="198.1">G83</text></g>
<g id="G84"><circle class="b" cx="832" cy="234.4" r="12.5"/><text class="nt" x="832" y="236.7">G84</text></g>
<g id="G85"><circle class="b" cx="832" cy="273" r="12.5"/><text class="nt" x="832" y="275.3">G85</text></g>
<g id="G86"><circle class="b" cx="832" cy="311.6" r="12.5"/><text class="nt" x="832" y="313.9">G86</text></g>
<g id="P11"><rect class="o" x="808" y="343" width="47" height="27"/><text class="bt" x="831.5" y="351">PENYAKIT</text><text class="bt" x="831.5" y="357.5">BUSUK PANGKAL</text><text class="bt" x="831.5" y="364">BATANG</text></g>
<g id="G87"><circle class="b" cx="902" cy="80" r="12.5"/><text class="nt" x="902" y="82.3">G87</text></g>
<g id="G88"><circle class="b" cx="902" cy="118.6" r="12.5"/><text class="nt" x="902" y="120.9">G88</text></g>
<g id="G89"><circle class="b" cx="902" cy="157.2" r="12.5"/><text class="nt" x="902" y="159.5">G89</text></g>
<g id="P12"><rect class="o" x="878" y="187" width="45" height="30"/><text class="bt" x="900.5" y="193.5">PENYAKIT</text><text class="bt" x="900.5" y="199.5">KERITING</text><text class="bt" x="900.5" y="205.5">DAUN DAN</text><text class="bt" x="900.5" y="211.5">KERDIL</text></g>
</g>
</svg>
